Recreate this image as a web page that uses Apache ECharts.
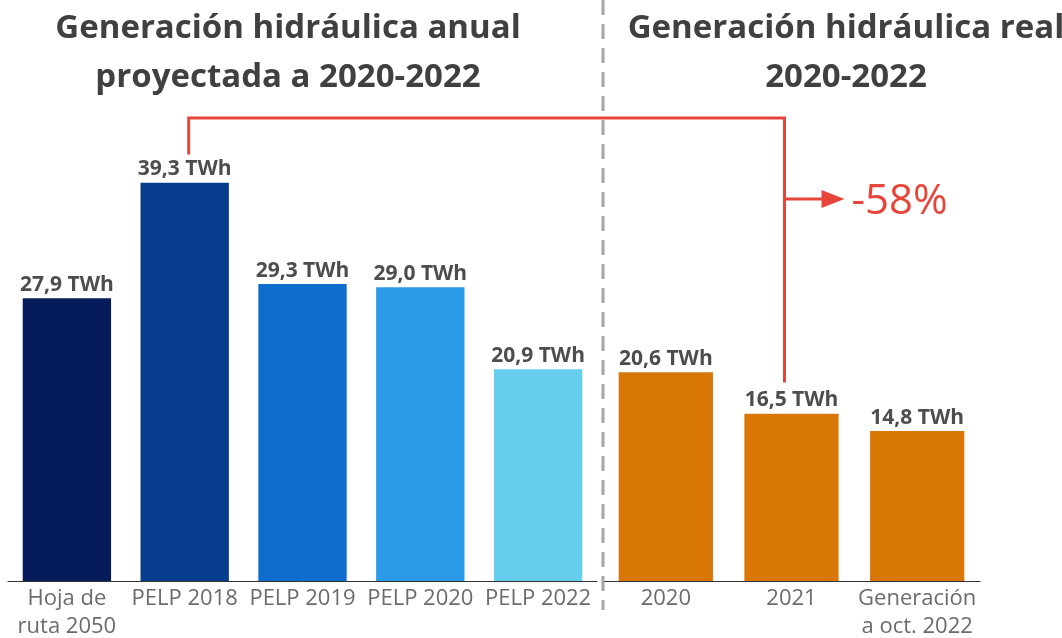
<!DOCTYPE html>
<html lang="es">
<head>
<meta charset="UTF-8">
<title>Generación hidráulica</title>
<style>
  html, body { margin: 0; padding: 0; background: #fff; }
  #chart { width: 1062px; height: 638px; }
</style>
</head>
<body>
<div id="chart"></div>
<script src="https://cdn.jsdelivr.net/npm/echarts@6/dist/echarts.min.js"></script>
<script>
// proyecciones (izquierda)
var projCategories = ['Hoja de\nruta 2050', 'PELP 2018', 'PELP 2019', 'PELP 2020', 'PELP 2022'];
var projValues = [27.9, 39.3, 29.3, 29.0, 20.9];
var projColors = ['#061b5a', '#083d8e', '#0f6ecd', '#2b9ae8', '#66ceec'];

// real (derecha)
var realCategories = ['2020', '2021', 'Generación\na oct. 2022'];
var realValues = [20.6, 16.5, 14.8];
var realColor = '#d97706';

var titles = ['Generación hidráulica anual\nproyectada a 2020-2022', 'Generación hidráulica real\n2020-2022'];
var changeText = '-58%';

var FONT = '"Open Sans", "Noto Sans", sans-serif';
var yMax = 45;

function fmt(v) {
    return v.toFixed(1).replace('.', ',') + ' TWh';
}

var labelStyle = {
    show: true,
    position: 'top',
    distance: 3,
    color: '#4d4d4d',
    fontFamily: FONT,
    fontWeight: 'bold',
    fontSize: 21,
    formatter: function (p) { return fmt(p.value); }
};

var axisLabelStyle = {
    color: '#6b6b6b',
    fontFamily: FONT,
    fontSize: 22,
    lineHeight: 28,
    margin: 4,
    interval: 0
};

var titleStyle = { color: '#404040', fontFamily: FONT, fontWeight: 'bold', fontSize: 33, lineHeight: 49 };

var chart = echarts.init(document.getElementById('chart'));

var option = {
    animation: false,
    title: [
        { text: titles[0], left: 283, top: -1, textAlign: 'center', textStyle: titleStyle },
        { text: titles[1], left: 841, top: -1, textAlign: 'center', textStyle: titleStyle }
    ],
    grid: [
        { left: 8, width: 589, top: 125, bottom: 57, outerBoundsMode: 'none', containLabel: false },
        { left: 603, width: 377, top: 125, bottom: 57, outerBoundsMode: 'none', containLabel: false }
    ],
    xAxis: [
        {
            type: 'category', gridIndex: 0, data: projCategories,
            axisLine: { lineStyle: { color: '#333', width: 1 } },
            axisTick: { show: false },
            axisLabel: axisLabelStyle
        },
        {
            type: 'category', gridIndex: 1, data: realCategories,
            axisLine: { lineStyle: { color: '#333', width: 1 } },
            axisTick: { show: false },
            axisLabel: axisLabelStyle
        }
    ],
    yAxis: [
        { type: 'value', gridIndex: 0, min: 0, max: yMax, show: false, splitLine: { show: false } },
        { type: 'value', gridIndex: 1, min: 0, max: yMax, show: false, splitLine: { show: false } }
    ],
    series: [
        {
            type: 'bar', xAxisIndex: 0, yAxisIndex: 0,
            barCategoryGap: '25%',
            data: projValues.map(function (v, i) {
                return { value: v, itemStyle: { color: projColors[i] } };
            }),
            label: labelStyle
        },
        {
            type: 'bar', xAxisIndex: 1, yAxisIndex: 1,
            barCategoryGap: '25%',
            itemStyle: { color: realColor },
            data: realValues,
            label: labelStyle
        }
    ]
};

chart.setOption(option);

// anotación: línea roja de PELP 2018 a 2021 y flecha con el cambio
var red = '#e8453a';
var from = chart.convertToPixel({ seriesIndex: 0 }, [1, projValues[1] + 2.8]);
var to = chart.convertToPixel({ seriesIndex: 1 }, [1, realValues[1] + 3.1]);
var topY = chart.convertToPixel({ seriesIndex: 0 }, [1, 45.7])[1];
var arrowY = chart.convertToPixel({ seriesIndex: 1 }, [1, 37.7])[1];
var lineX = to[0] - 7;
var tipX = lineX + 60;

// separador entre ambos paneles
var gridRect = chart.getModel().getComponent('grid', 1).coordinateSystem.getRect();

chart.setOption({
    graphic: [
        {
            type: 'line',
            shape: { x1: gridRect.x, y1: 0, x2: gridRect.x, y2: 610 },
            style: { stroke: '#a6a6a6', lineWidth: 3, lineDash: [15, 9] },
            z: 1
        },
        {
            type: 'polyline',
            shape: { points: [[from[0] + 4, from[1]], [from[0] + 4, topY], [lineX, topY], [lineX, to[1]]] },
            style: { stroke: red, lineWidth: 3, fill: null },
            z: 10
        },
        {
            type: 'line',
            shape: { x1: lineX, y1: arrowY, x2: tipX - 20, y2: arrowY },
            style: { stroke: red, lineWidth: 3 },
            z: 10
        },
        {
            type: 'polygon',
            shape: { points: [[tipX - 23, arrowY - 9], [tipX, arrowY], [tipX - 23, arrowY + 9]] },
            style: { fill: red },
            z: 10
        },
        {
            type: 'text',
            x: tipX + 7,
            y: arrowY + 3,
            style: {
                text: changeText, fill: red, font: '42px "Open Sans", "Noto Sans", sans-serif',
                verticalAlign: 'middle'
            },
            z: 10
        }
    ]
});
</script>
</body>
</html>
